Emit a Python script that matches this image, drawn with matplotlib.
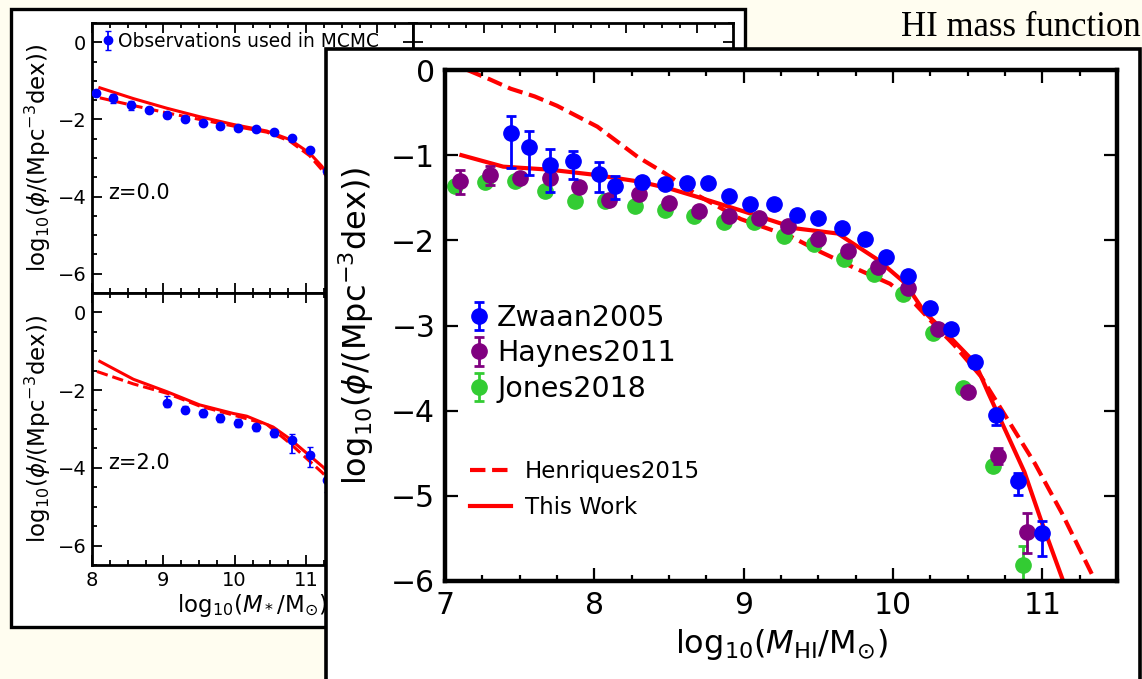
import matplotlib
matplotlib.use('Agg')
import matplotlib.pyplot as plt
from matplotlib.patches import Rectangle
from matplotlib.lines import Line2D
from matplotlib.ticker import MultipleLocator

# ---------------- data: HI mass function (front panel) ----------------
zwaan_x = [7.44, 7.56, 7.70, 7.86, 8.03, 8.14, 8.32, 8.47, 8.62, 8.76, 8.90, 9.04, 9.20,
           9.36, 9.50, 9.66, 9.81, 9.95, 10.10, 10.25, 10.39, 10.55, 10.69, 10.84, 11.00]
zwaan_y = [-0.74, -0.90, -1.12, -1.07, -1.22, -1.36, -1.32, -1.34, -1.33, -1.33, -1.475, -1.57, -1.57,
           -1.70, -1.74, -1.86, -1.99, -2.19, -2.42, -2.79, -3.04, -3.43, -4.05, -4.82, -5.44]
zwaan_lo = [0.41, 0.33, 0.31, 0.21, 0.21, 0.15, 0.06, 0.05, 0.04, 0.04, 0.04, 0.04, 0.04,
            0.04, 0.04, 0.04, 0.04, 0.04, 0.05, 0.05, 0.05, 0.06, 0.12, 0.17, 0.27]
zwaan_hi = [0.20, 0.18, 0.19, 0.12, 0.14, 0.11, 0.06, 0.05, 0.04, 0.04, 0.04, 0.04, 0.04,
            0.04, 0.04, 0.04, 0.04, 0.04, 0.05, 0.05, 0.05, 0.06, 0.06, 0.09, 0.15]

haynes_x = [7.1, 7.3, 7.5, 7.7, 7.9, 8.1, 8.3, 8.5, 8.7, 8.9, 9.1, 9.3, 9.5, 9.7, 9.9,
            10.1, 10.3, 10.5, 10.7, 10.9]
haynes_y = [-1.30, -1.23, -1.27, -1.27, -1.37, -1.53, -1.46, -1.565, -1.66, -1.71, -1.74, -1.83,
            -1.99, -2.13, -2.31, -2.56, -3.04, -3.78, -4.53, -5.43]
haynes_lo = [0.16, 0.12, 0.03, 0.03, 0.03, 0.03, 0.03, 0.03, 0.03, 0.03, 0.03, 0.03,
             0.03, 0.03, 0.03, 0.03, 0.04, 0.05, 0.10, 0.24]
haynes_hi = [0.12, 0.10, 0.03, 0.03, 0.03, 0.03, 0.03, 0.03, 0.03, 0.03, 0.03, 0.03,
             0.03, 0.03, 0.03, 0.03, 0.04, 0.05, 0.09, 0.23]

jones_x = [7.07, 7.27, 7.47, 7.67, 7.87, 8.07, 8.27, 8.47, 8.67, 8.87, 9.07, 9.27, 9.47, 9.67,
           9.87, 10.07, 10.27, 10.47, 10.67, 10.87]
jones_y = [-1.36, -1.32, -1.30, -1.42, -1.54, -1.54, -1.60, -1.64, -1.71, -1.79, -1.78, -1.95,
           -2.04, -2.22, -2.39, -2.63, -3.09, -3.73, -4.65, -5.81]
jones_lo = [0.03] * 18 + [0.06, 0.18]
jones_hi = [0.03] * 18 + [0.06, 0.22]

thiswork_x = [7.11, 7.39, 7.70, 8.00, 8.30, 8.50, 8.69, 9.00, 9.35, 9.63, 9.90, 10.08, 10.21,
              10.39, 10.55, 10.64, 10.88, 10.99, 11.15]
thiswork_y = [-1.00, -1.135, -1.17, -1.23, -1.31, -1.39, -1.49, -1.66, -1.86, -1.92, -2.23, -2.50,
              -2.84, -3.15, -3.44, -3.80, -4.72, -5.28, -6.05]

henriques_x = [7.15, 7.30, 7.44, 7.60, 7.75, 8.02, 8.29, 8.47, 8.69, 8.98, 9.32, 9.52, 9.75, 9.98,
               10.15, 10.31, 10.41, 10.59, 10.77, 10.95, 11.13, 11.36]
henriques_y = [0.0, -0.11, -0.22, -0.31, -0.42, -0.665, -1.02, -1.21, -1.47, -1.75, -1.96, -2.14,
               -2.33, -2.51, -2.75, -3.05, -3.23, -3.60, -4.11, -4.62, -5.20, -6.02]

# ---------------- data: stellar mass function (back panel) ----------------
smf0_x = [8.05, 8.30, 8.55, 8.80, 9.05, 9.30, 9.55, 9.80, 10.05, 10.30, 10.55, 10.80, 11.05, 11.30]
smf0_y = [-1.32, -1.45, -1.63, -1.76, -1.89, -1.98, -2.09, -2.18, -2.22, -2.24, -2.33, -2.48, -2.80, -3.34]
smf0_err = [0.08, 0.12, 0.12, 0.08, 0.07, 0.07, 0.06, 0.06, 0.06, 0.05, 0.05, 0.05, 0.05, 0.05]
smf0_model_x = [8.11, 8.58, 9.05, 9.51, 9.98, 10.45, 10.77, 11.05, 11.22, 11.6]
smf0_model_y = [-1.18, -1.46, -1.71, -1.93, -2.13, -2.30, -2.52, -2.87, -3.21, -4.2]
smf0_h15_y = [-1.44, -1.64, -1.83, -2.00, -2.17, -2.33, -2.56, -2.94, -3.30, -4.3]

smf2_x = [9.05, 9.30, 9.55, 9.80, 10.05, 10.30, 10.55, 10.80, 11.05, 11.30]
smf2_y = [-2.32, -2.50, -2.60, -2.71, -2.84, -2.96, -3.10, -3.29, -3.66, -4.31]
smf2_lo = [0.12, 0.10, 0.10, 0.10, 0.10, 0.10, 0.10, 0.33, 0.32, 0.30]
smf2_hi = [0.16, 0.10, 0.10, 0.10, 0.10, 0.10, 0.10, 0.17, 0.20, 0.20]
smf2_model_x = [8.11, 8.58, 9.05, 9.51, 9.98, 10.17, 10.54, 10.77, 11.24, 11.6]
smf2_model_y = [-1.26, -1.72, -2.04, -2.38, -2.60, -2.67, -2.95, -3.25, -3.98, -4.7]
smf2_h15_x = [8.07, 8.58, 9.05, 9.51, 9.98, 10.45, 10.77, 11.22, 11.6]
smf2_h15_y = [-1.52, -1.84, -2.08, -2.41, -2.64, -2.88, -3.36, -4.11, -4.8]

back_xticks = [8, 9, 10, 11, 12]
back_xticklabels = ['8', '9', '10', '11', '']

BLUE, PURPLE, GREEN, RED = '#0000ff', '#800080', '#33cc33', '#ff0000'
BG = '#fffdf0'
YLAB = r'$\mathrm{log}_{10}(\phi/(\mathrm{Mpc}^{-3}\mathrm{dex}))$'

W, H = 1142, 679
fig = plt.figure(figsize=(W / 100, H / 100), dpi=100, facecolor=BG)


def fx(px):
    return px / W


def fy(py):
    return 1 - py / H


def rect(l, t, r, b):
    return [fx(l), fy(b), (r - l) / W, (b - t) / H]


# back frame
fig.add_artist(Rectangle((fx(11), fy(627)), (745 - 11) / W, (627 - 9) / H,
                         transform=fig.transFigure, facecolor='white',
                         edgecolor='black', lw=2.4, zorder=-5))


def style_back(ax, xlabels=True, ylabels=True):
    ax.set_xlim(8, 12.5)
    ax.set_ylim(-6.5, 0.5)
    ax.set_xticks(back_xticks)
    ax.set_xticklabels(back_xticklabels)
    ax.xaxis.set_minor_locator(MultipleLocator(0.25))
    ax.yaxis.set_major_locator(MultipleLocator(2))
    ax.yaxis.set_minor_locator(MultipleLocator(0.5))
    ax.tick_params(which='both', direction='in', top=True, right=True,
                   labelsize=14, width=1.3, labelbottom=xlabels, labelleft=ylabels)
    ax.tick_params(which='major', length=7, pad=4)
    ax.tick_params(which='minor', length=3.5)
    for s in ax.spines.values():
        s.set_linewidth(2.0)


ax0 = fig.add_axes(rect(92, 23, 413, 293), zorder=0)
ax2 = fig.add_axes(rect(92, 293, 413, 565), zorder=0)
ax0r = fig.add_axes(rect(413, 23, 733, 293), zorder=0)
ax2r = fig.add_axes(rect(413, 293, 733, 565), zorder=0)
style_back(ax0, xlabels=False)
style_back(ax2)
style_back(ax0r, xlabels=False, ylabels=False)
style_back(ax2r, xlabels=False, ylabels=False)

eb0 = ax0.errorbar(smf0_x, smf0_y, yerr=smf0_err, fmt='o', color=BLUE, ms=6,
                   capsize=2, elinewidth=1.3, zorder=3)
ax0.plot(smf0_model_x, smf0_model_y, color=RED, lw=2.2, zorder=2)
ax0.plot(smf0_model_x, smf0_h15_y, color=RED, lw=2.2, ls='--', zorder=2)
ax0.text(0.05, 0.37, 'z=0.0', transform=ax0.transAxes, fontsize=15, va='center')
ax0.set_ylabel(YLAB, fontsize=16.5)
ax0.yaxis.set_label_coords((53 - 92) / 321, 0.5)
ax0.legend([eb0], ['Observations used in MCMC'], loc='upper left', frameon=False,
           fontsize=13.4, handlelength=0.5, handletextpad=0.3, borderpad=0,
           borderaxespad=0, bbox_to_anchor=(fx(103.5), fy(32)),
           bbox_transform=fig.transFigure)

ax2.errorbar(smf2_x, smf2_y, yerr=[smf2_lo, smf2_hi], fmt='o', color=BLUE, ms=6,
             capsize=2, elinewidth=1.3, zorder=3)
ax2.plot(smf2_model_x, smf2_model_y, color=RED, lw=2.2, zorder=2)
ax2.plot(smf2_h15_x, smf2_h15_y, color=RED, lw=2.2, ls='--', zorder=2)
ax2.text(0.05, 0.375, 'z=2.0', transform=ax2.transAxes, fontsize=15, va='center')
ax2.set_ylabel(YLAB, fontsize=16.5)
ax2.yaxis.set_label_coords((53 - 92) / 321, 0.5)
ax2.set_xlabel(r'$\mathrm{log}_{10}(M_*/\mathrm{M}_{\odot})$', fontsize=16.5, labelpad=2)

# front frame
fig.add_artist(Rectangle((fx(326), fy(720)), (1140 - 326) / W, (720 - 49) / H,
                         transform=fig.transFigure, facecolor='white',
                         edgecolor='black', lw=2.6, zorder=1))

axf = fig.add_axes(rect(445, 70, 1117, 581), zorder=2)
axf.set_xlim(7, 11.5)
axf.set_ylim(-6, 0)
axf.xaxis.set_major_locator(MultipleLocator(1))
axf.xaxis.set_minor_locator(MultipleLocator(0.25))
axf.yaxis.set_major_locator(MultipleLocator(1))
axf.tick_params(which='both', direction='in', top=True, right=True, labelsize=21.5, width=1.6)
axf.tick_params(which='major', length=9.5, pad=7)
axf.tick_params(which='minor', length=4.5)
for s in axf.spines.values():
    s.set_linewidth(3.2)

axf.plot(henriques_x, henriques_y, color=RED, lw=3, ls='--', zorder=1)
axf.plot(thiswork_x, thiswork_y, color=RED, lw=3, zorder=1)
ebj = axf.errorbar(jones_x, jones_y, yerr=[jones_lo, jones_hi], fmt='o', color=GREEN,
                   ms=11, capsize=3.5, elinewidth=2, capthick=2, zorder=2)
ebh = axf.errorbar(haynes_x, haynes_y, yerr=[haynes_lo, haynes_hi], fmt='o', color=PURPLE,
                   ms=11, capsize=3.5, elinewidth=2, capthick=2, zorder=3)
ebz = axf.errorbar(zwaan_x, zwaan_y, yerr=[zwaan_lo, zwaan_hi], fmt='o', color=BLUE,
                   ms=11, capsize=3.5, elinewidth=2, capthick=2, zorder=4)

axf.set_ylabel(YLAB, fontsize=23)
axf.yaxis.set_label_coords((376 - 445) / 672, 0.5)
axf.set_xlabel(r'$\mathrm{log}_{10}(M_{\mathrm{HI}}/\mathrm{M}_{\odot})$', fontsize=23, labelpad=5)

leg1 = axf.legend([ebz, ebh, ebj], ['Zwaan2005', 'Haynes2011', 'Jones2018'],
                  loc='upper left', frameon=False, fontsize=20.5, handlelength=0.6,
                  handletextpad=0.35, labelspacing=0.26, borderpad=0, borderaxespad=0,
                  bbox_to_anchor=(fx(470), fy(304)), bbox_transform=fig.transFigure)
axf.add_artist(leg1)
h_dash = Line2D([], [], color=RED, lw=3, ls='--')
h_solid = Line2D([], [], color=RED, lw=3)
axf.legend([h_dash, h_solid], ['Henriques2015', 'This Work'], loc='upper left',
           frameon=False, fontsize=16.5, handlelength=1.8, handletextpad=0.6,
           labelspacing=0.55, borderpad=0, borderaxespad=0,
           bbox_to_anchor=(fx(470), fy(460)), bbox_transform=fig.transFigure)

fig.text(fx(1141), fy(36), 'HI mass function', ha='right', va='baseline',
         fontsize=25, family='Liberation Serif', zorder=5)

fig.savefig('out.png', dpi=100, facecolor=BG)
